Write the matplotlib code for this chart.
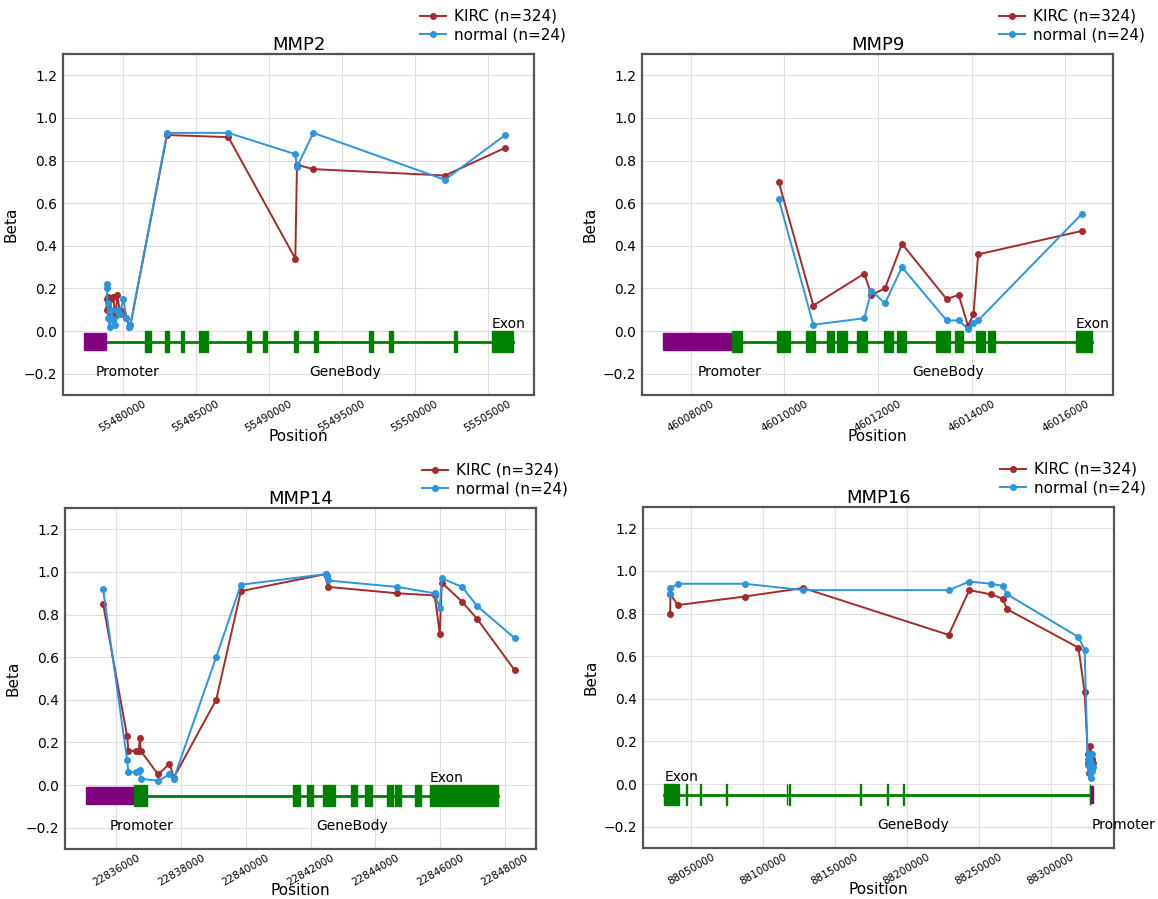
import matplotlib.pyplot as plt
from matplotlib.patches import Rectangle

kirc_color = '#a52a2a'
normal_color = '#2b95e0'

# MMP2 (+ strand)
mmp2_pos = [55478900, 55478920, 55478960, 55479020, 55479100, 55479230, 55479350,
            55479500, 55479640, 55479780, 55480050, 55480250, 55480460, 55480530,
            55483037, 55487237, 55491826, 55491941, 55493059, 55502078, 55506210]
mmp2_kirc = [0.15, 0.10, 0.16, 0.11, 0.08, 0.15, 0.16, 0.07, 0.17, 0.10, 0.08, 0.06, 0.02, 0.03,
             0.92, 0.91, 0.34, 0.78, 0.76, 0.73, 0.86]
mmp2_normal = [0.22, 0.20, 0.13, 0.06, 0.02, 0.10, 0.05, 0.03, 0.10, 0.08, 0.15, 0.06, 0.02, 0.03,
               0.93, 0.93, 0.83, 0.77, 0.93, 0.71, 0.92]
mmp2_promoter = [55477374, 55478858]
mmp2_exon_start = [55481553, 55482877, 55483995, 55485251, 55485525, 55488493, 55489589,
                   55491758, 55493082, 55496849, 55498219, 55502694, 55505274]
mmp2_exon_end = [55481963, 55483196, 55484224, 55485434, 55485822, 55488767, 55489863,
                 55492009, 55493356, 55497123, 55498493, 55502922, 55506712]

# MMP9 (+ strand)
mmp9_pos = [46009879, 46010619, 46011708, 46011858, 46012149, 46012512, 46013466,
            46013722, 46013922, 46014040, 46014140, 46016356]
mmp9_kirc = [0.70, 0.12, 0.27, 0.17, 0.20, 0.41, 0.15, 0.17, 0.025, 0.08, 0.36, 0.47]
mmp9_normal = [0.62, 0.03, 0.06, 0.19, 0.13, 0.30, 0.05, 0.05, 0.01, 0.04, 0.05, 0.55]
mmp9_promoter = [46007416, 46008890]
mmp9_exon_start = [46008890, 46009851, 46010470, 46010904, 46011117, 46011559, 46012121,
                   46012413, 46013238, 46013637, 46014100, 46014342, 46016221]
mmp9_exon_end = [46009089, 46010121, 46010648, 46011060, 46011331, 46011758, 46012327,
                 46012591, 46013537, 46013808, 46014285, 46014491, 46016562]

# MMP14 (+ strand)
mmp14_pos = [22835588, 22836330, 22836371, 22836598, 22836690, 22836722, 22836753, 22837289,
             22837639, 22837773, 22839082, 22839845, 22842464, 22842495, 22842526, 22844670,
             22845835, 22845990, 22846052, 22846680, 22847144, 22848299]
mmp14_kirc = [0.85, 0.23, 0.16, 0.16, 0.16, 0.22, 0.16, 0.05, 0.10, 0.035, 0.40, 0.91,
              0.99, 0.98, 0.93, 0.90, 0.89, 0.71, 0.95, 0.86, 0.78, 0.54]
mmp14_normal = [0.92, 0.12, 0.06, 0.06, 0.065, 0.07, 0.03, 0.02, 0.05, 0.03, 0.60, 0.94,
                0.99, 0.98, 0.96, 0.93, 0.90, 0.83, 0.97, 0.93, 0.84, 0.69]
mmp14_promoter = [22835072, 22836536]
mmp14_exon_start = [22836536, 22841464, 22841876, 22842392, 22843237, 22843680, 22844351,
                    22844608, 22845237, 22845691]
mmp14_exon_end = [22836948, 22841670, 22842062, 22842742, 22843443, 22843897, 22844536,
                  22844804, 22845402, 22847804]

# MMP16 (- strand)
mmp16_pos = [88035430, 88035700, 88040800, 88087234, 88127937, 88229001, 88243340, 88258603,
             88266466, 88269704, 88319195, 88323500, 88325700, 88326000, 88326600, 88327000,
             88327500, 88327800, 88328000, 88328400, 88328700, 88329000]
mmp16_kirc = [0.80, 0.89, 0.84, 0.88, 0.92, 0.70, 0.91, 0.89, 0.87, 0.82, 0.64, 0.43,
              0.14, 0.10, 0.05, 0.09, 0.18, 0.14, 0.12, 0.10, 0.12, 0.10]
mmp16_normal = [0.89, 0.92, 0.94, 0.94, 0.91, 0.91, 0.95, 0.94, 0.93, 0.89, 0.69, 0.63,
                0.09, 0.12, 0.14, 0.07, 0.05, 0.03, 0.10, 0.06, 0.14, 0.08]
mmp16_promoter = [88327520, 88329020]
mmp16_exon_start = [88031499, 88046300, 88056000, 88074500, 88116400, 88118200, 88167500,
                    88186200, 88197100, 88326900]
mmp16_exon_end = [88041906, 88046900, 88056600, 88075100, 88117000, 88118800, 88168100,
                  88186800, 88197700, 88327500]

genes = ['MMP2', 'MMP9', 'MMP14', 'MMP16']
strands = ['+', '+', '+', '-']

fig = plt.figure(figsize=(11.58, 8.99), dpi=100)
boxes = [[0.0544, 0.5606, 0.4067, 0.3793],
         [0.5544, 0.5606, 0.4067, 0.3793],
         [0.0561, 0.0556, 0.4067, 0.3793],
         [0.5553, 0.0567, 0.4067, 0.3793]]


def gene_model(ax, promoter, starts, ends, strand):
    # body line between promoter and far end of the gene
    if strand == '+':
        body = [promoter[1], max(ends)]
    else:
        body = [min(starts), promoter[0]]
    ax.plot(body, [-0.05, -0.05], color='green', linewidth=2, zorder=2)
    ax.add_patch(Rectangle((promoter[0], -0.09), promoter[1] - promoter[0], 0.08,
                           facecolor='purple', edgecolor='purple', linewidth=1, zorder=3))
    for s, e in zip(starts, ends):
        ax.add_patch(Rectangle((s, -0.1), e - s, 0.1, facecolor='green',
                               edgecolor='green', linewidth=1, zorder=3))
    # need the patches inside the autoscale
    ax.plot([promoter[0], max(ends + [promoter[1]])], [-0.05, -0.05], alpha=0)
    exon_x = max(starts) if strand == '+' else min(starts)
    ax.text(exon_x, 0.0, 'Exon', fontsize=10, va='bottom', ha='left')
    ax.text((promoter[0] + promoter[1]) / 2, -0.19, 'Promoter', fontsize=10, va='center', ha='left')
    ax.text((body[0] + body[1]) / 2, -0.19, 'GeneBody', fontsize=10, va='center', ha='left')


data = [(mmp2_pos, mmp2_kirc, mmp2_normal, mmp2_promoter, mmp2_exon_start, mmp2_exon_end),
        (mmp9_pos, mmp9_kirc, mmp9_normal, mmp9_promoter, mmp9_exon_start, mmp9_exon_end),
        (mmp14_pos, mmp14_kirc, mmp14_normal, mmp14_promoter, mmp14_exon_start, mmp14_exon_end),
        (mmp16_pos, mmp16_kirc, mmp16_normal, mmp16_promoter, mmp16_exon_start, mmp16_exon_end)]

for i in range(4):
    pos, kirc, normal, promoter, starts, ends = data[i]
    ax = fig.add_axes(boxes[i])
    ax.set_axisbelow(True)
    ax.grid(True, color='#dedede', linewidth=0.8)
    gene_model(ax, promoter, starts, ends, strands[i])
    ax.plot(pos, kirc, '-o', color=kirc_color, linewidth=1.4, markersize=4,
            label='KIRC (n=324)', zorder=4)
    ax.plot(pos, normal, '-o', color=normal_color, linewidth=1.4, markersize=4,
            label='normal (n=24)', zorder=4)
    ax.set_ylim(-0.3, 1.3)
    ax.set_yticks([-0.2, 0.0, 0.2, 0.4, 0.6, 0.8, 1.0, 1.2])
    ax.ticklabel_format(axis='x', style='plain', useOffset=False)
    ax.tick_params(axis='x', labelsize=7.5, labelrotation=30, length=0, pad=3)
    ax.tick_params(axis='y', labelsize=10, length=0, pad=4)
    for sp in ax.spines.values():
        sp.set_color('#555555')
        sp.set_linewidth(1.6)
    ax.set_title(genes[i], fontsize=13, pad=2)
    ax.set_xlabel('Position', fontsize=11, labelpad=-4)
    ax.set_ylabel('Beta', fontsize=11)
    ax.legend(loc='lower left', bbox_to_anchor=(0.745, 1.015), frameon=False,
              fontsize=11, labelspacing=0.25, borderaxespad=0,
              handlelength=1.7, handletextpad=0.5)

fig.savefig('out.png', dpi=100)
